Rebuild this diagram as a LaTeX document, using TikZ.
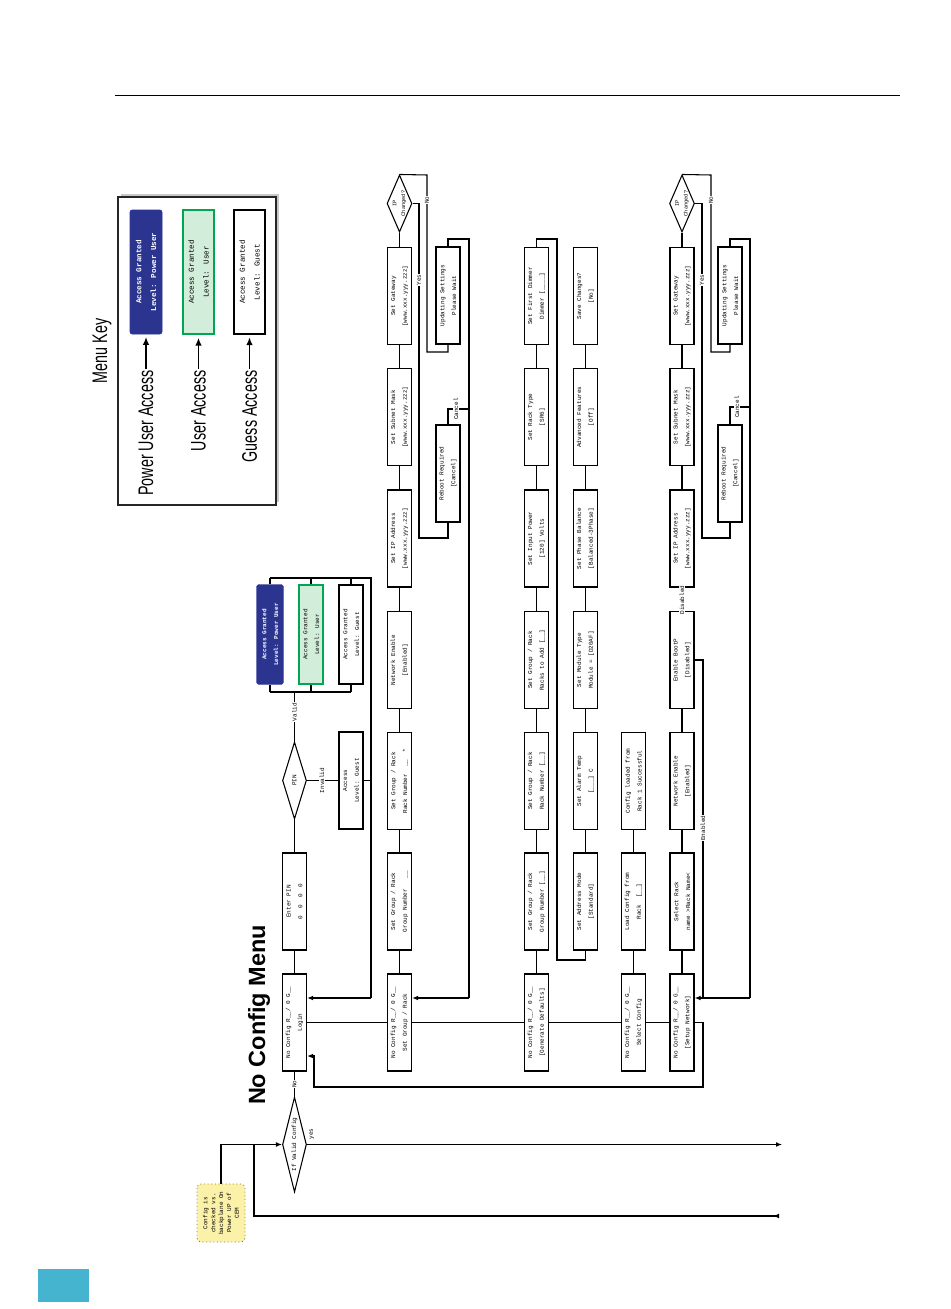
\documentclass[tikz,border=0pt]{standalone}
\usepackage{fontspec}
\setmainfont{Liberation Sans}
\newfontfamily\monof{Liberation Mono}
\newfontfamily\narrowf[FakeStretch=0.68]{Liberation Sans}
\usetikzlibrary{shapes.geometric,arrows.meta,shadows}
\definecolor{pblue}{HTML}{2B3590}
\definecolor{ugreen}{HTML}{00A651}
\definecolor{ugfill}{HTML}{D3EDDB}
\definecolor{notey}{HTML}{FCF1A8}
\definecolor{notebd}{HTML}{8A7F3A}
\definecolor{cyanbox}{HTML}{45B4CF}
\begin{document}
\begin{tikzpicture}[x=0.75pt,y=-0.75pt,
  boxtxt/.style={font=\monof\fontsize{4.5}{8.8}\selectfont},
  boldtxt/.style={font=\monof\bfseries\fontsize{4.5}{8.8}\selectfont},
  smalltxt/.style={font=\monof\fontsize{4}{6.6}\selectfont},
  lgtxt/.style={font=\monof\fontsize{5.7}{11}\selectfont},
  lgbold/.style={font=\monof\bfseries\fontsize{5.7}{11}\selectfont},
  mbox/.style={draw, line width=1pt, rotate=90, minimum width=72.75pt, minimum height=18pt, inner sep=0pt, align=center, boxtxt},
  dia/.style={draw, line width=0.8pt, diamond, rotate=90, inner sep=0pt, align=center, boxtxt},
  conn/.style={line width=0.8pt},
  arr/.style={conn, -{Latex[length=4.5pt,width=3.6pt]}},
  lbl/.style={rotate=90, fill=white, inner sep=0.6pt, boxtxt},
  keytxt/.style={rotate=90, inner sep=1pt, font=\narrowf\fontsize{15.8}{18}\selectfont},
  keyarr/.style={line width=1.2pt, -{Latex[length=6pt,width=5pt]}, shorten >=2pt},
]
\useasboundingbox (0,0) rectangle (950,1309);
\fill[white] (0,0) rectangle (950,1309);

% page furniture
\draw[line width=0.6pt] (115,95) -- (900,95);
\fill[cyanbox] (38,1269) rectangle (89,1302);

% title
\node[rotate=90, font=\bfseries\fontsize{17.6}{20}\selectfont] (title) at (259,1015) {No Config Menu};

% ---------------- legend ----------------
\node[rotate=90, font=\narrowf\fontsize{15.8}{18}\selectfont] (menukey) at (102,351) {Menu Key};
\node[draw=black!85, line width=1.6pt, fill=white, minimum width=118.5pt, minimum height=231pt,
      drop shadow={shadow xshift=2.5pt,shadow yshift=2.5pt,opacity=0.35,fill=black!60}] (legend) at (197,351) {};
\node[rotate=90, fill=pblue, draw=pblue, rounded corners=1.5pt, minimum width=93pt, minimum height=24pt, inner sep=0pt, align=center, text=white, lgbold] (kpu) at (146,272) {Access Granted\\Level: Power User};
\node[rotate=90, fill=ugfill, draw=ugreen, line width=1.6pt, minimum width=93pt, minimum height=23.25pt, inner sep=0pt, align=center, lgtxt] (ku) at (198.5,272) {Access Granted\\Level: User};
\node[rotate=90, draw, line width=0.8pt, minimum width=93pt, minimum height=23.25pt, inner sep=0pt, align=center, lgtxt] (kg) at (249.5,272) {Access Granted\\Level: Guest};
\node[keytxt, anchor=east] (tpu) at (146,369) {Power User Access};
\node[keytxt, anchor=east] (tu) at (198.5,369) {User Access};
\node[keytxt, anchor=east] (tg) at (249.5,369) {Guess Access};
\draw[keyarr] (tpu.east) -- (kpu.west);
\draw[keyarr] (tu.east) -- (ku.west);
\draw[keyarr] (tg.east) -- (kg.west);

% ---------------- coordinates ----------------
\coordinate (busb) at (0,692);
\coordinate (bust) at (0,578);
\coordinate (j1) at (371,998);
\coordinate (j2) at (469,998);
\coordinate (j3) at (750,998);
\coordinate (k1) at (314,1056);

% ---------------- column 1 ----------------
\node[mbox] (login) at (294.5,1022.5) {No Config R\_\_/ 0 G\_\_\\Login};
\node[mbox] (pin0) at (294.5,901.5) {Enter PIN\\0\ \ 0\ \ 0\ \ 0};
\node[dia, shape aspect=3.2, minimum width=57.75pt, minimum height=18pt] (pin) at (294.5,780.5) {PIN};
\node[mbox] (guest) at (351,780.5) {Access\\Level: Guest};
\node[mbox, fill=pblue, draw=pblue, rounded corners=1.2pt, text=white, boldtxt, minimum width=74.25pt, minimum height=19.5pt] (apu) at (270,634.5) {Access Granted\\Level: Power User};
\node[mbox, draw=ugreen, line width=1.5pt, fill=ugfill, minimum width=74.25pt] (au) at (311,634.5) {Access Granted\\Level: User};
\node[mbox, minimum width=74.25pt] (ag) at (351,634.5) {Access Granted\\Level: Guest};
\node[dia, shape aspect=4, minimum width=71.25pt, minimum height=18pt] (ivc) at (294.5,1144.5) {If Valid Config};
\node[rotate=90, draw=notebd, dotted, line width=0.7pt, fill=notey, rounded corners=3pt, minimum width=43.5pt, minimum height=36pt, inner sep=0pt, align=center, font=\monof\fontsize{4.5}{5.9}\selectfont] (note) at (221,1213) {Config is\\checked vs.\\backplane On\\Power UP of\\CEM};

\draw[conn] (login) -- (pin0);
\draw[conn] (pin0) -- (pin);
\draw[conn] (pin) -- (guest);
\draw[conn] (pin.east) -- (pin.east |- busb);
\draw[conn] (apu.west |- busb) -- (ag.west |- busb);
\draw[conn] (apu.west) -- (apu.west |- busb);
\draw[conn] (au.west) -- (au.west |- busb);
\draw[conn] (ag.west) -- (ag.west |- busb);
\draw[conn] (apu.east) -- (apu.east |- bust);
\draw[conn] (au.east) -- (au.east |- bust);
\draw[conn] (ag.east) -- (ag.east |- bust);
\draw[conn] (apu.east |- bust) -- (j1 |- bust) -- (j1);
\draw[arr] (j1) -- (j1 -| login.south);
\draw[conn] (guest.south) -- (guest.south -| j1);
\node[lbl] at (322,780.5) {Invalid};
\node[lbl] at (294.5,712) {Valid};

\draw[conn] (ivc) -- (login);
\node[lbl] at (294.5,1084) {No};
\draw[arr] (ivc.south) -- (782,1144.5);
\node[rotate=90, inner sep=0pt, boxtxt] at (312,1134) {yes};
\draw[arr] (note.east) -- (221,1144.5) -- (ivc.north);
\draw[conn, -{Latex[reversed,length=4.5pt,width=3.6pt]}] (254,1144.5) -- (254,1216) -- (779,1216);

% ---------------- column 2 ----------------
\node[mbox] (sgr) at (399.5,1022.5) {No Config R\_\_/ 0 G\_\_\\Set Group / Rack};
\node[mbox] (gn) at (399.5,901.5) {Set Group / Rack\\Group Number\ \ \ \_\_};
\node[mbox] (rn) at (399.5,781) {Set Group / Rack\\Rack Number\ \ \_\_\ \ *};
\node[mbox] (ne1) at (399.5,660) {Network Enable\\{}[Enabled]};
\node[mbox] (ip1) at (399.5,538.5) {Set IP Address\\{}[www.xxx.yyy.zzz]};
\node[mbox] (sm1) at (399.5,417) {Set Subnet Mask\\{}[www.xxx.yyy.zzz]};
\node[mbox] (gw1) at (399.5,296) {Set Gateway\\{}[www.xxx.yyy.zzz]};
\node[dia, smalltxt, shape aspect=2.3, inner sep=-1.5pt, minimum width=42.75pt, minimum height=18.75pt] (ipc1) at (399.5,203.5) {IP\\Changed?};
\node[mbox] (upd1) at (448,295.5) {Updating Settings\\Please Wait};
\node[mbox] (rbt1) at (448,473.5) {Reboot Required\\{}[Cancel]};

\draw[conn] (sgr) -- (gn);
\draw[conn] (gn) -- (rn);
\draw[conn] (rn) -- (ne1);
\draw[conn] (ne1) -- (ip1);
\draw[conn] (ip1) -- (sm1);
\draw[conn] (sm1) -- (gw1);
\draw[conn] (gw1) -- (ipc1);
\draw[conn] (ipc1.south) -- (419,203.5) -- (419,538) -- (448,538) -- (rbt1.west);
\draw[conn] (ipc1.east) -- (427,175) -- (427,352) -- (448,352) -- (upd1.west);
\draw[conn] (upd1.east) -- (448,239) -- (469,239) -- (j2);
\draw[arr] (j2) -- (j2 -| sgr.south);
\draw[conn] (rbt1.east) -- (448,409) -- (469,409);
\node[lbl] at (419,280) {Yes};
\node[lbl] at (427,200) {No};
\node[lbl] at (456,409) {Cancel};

% ---------------- column 3 / 4 ----------------
\node[mbox] (gd) at (536.5,1022.5) {No Config R\_\_/ 0 G\_\_\\{}[Generate Defaults]};
\node[mbox] (gn2) at (536.5,901.5) {Set Group / Rack\\Group Number [\_\_]};
\node[mbox] (rn2) at (536.5,781) {Set Group / Rack\\Rack Number [\_\_]};
\node[mbox] (ra2) at (536.5,660) {Set Group / Rack\\Racks to Add [\_\_]};
\node[mbox] (inp) at (536.5,538.5) {Set Input Power\\{}[120] Volts};
\node[mbox] (rt) at (536.5,417) {Set Rack Type\\{}[SR6]};
\node[mbox] (fd) at (536.5,296) {Set First Dimmer\\Dimmer [\_\_\_\_]};
\node[mbox] (am) at (585.5,901.5) {Set Address Mode\\{}[Standard]};
\node[mbox] (at) at (585.5,781) {Set Alarm Temp\\{}[\_\_\_] C};
\node[mbox] (mt) at (585.5,660) {Set Module Type\\Module = [D20AF]};
\node[mbox] (pb) at (585.5,538.5) {Set Phase Balance\\{}[Balanced-3Phase]};
\node[mbox] (af) at (585.5,417) {Advanced Features\\{}[Off]};
\node[mbox] (sc) at (585.5,296) {Save Changes?\\{}[No]};

\draw[conn] (gd) -- (gn2);
\draw[conn] (gn2) -- (rn2);
\draw[conn] (rn2) -- (ra2);
\draw[conn] (ra2) -- (inp);
\draw[conn] (inp) -- (rt);
\draw[conn] (rt) -- (fd);
\draw[conn] (fd.east) -- (536.5,239) -- (557,239) -- (557,960) -- (585.5,960) -- (am.west);
\draw[conn] (am) -- (at);
\draw[conn] (at) -- (mt);
\draw[conn] (mt) -- (pb);
\draw[conn] (pb) -- (af);
\draw[conn] (af) -- (sc);

% ---------------- column 5 ----------------
\node[mbox] (scfg) at (633.5,1022.5) {No Config R\_\_/ 0 G\_\_\\Select Config};
\node[mbox] (lc) at (633.5,901.5) {Load Config from\\Rack\ \ [\_\_]};
\node[mbox] (cl) at (633.5,781) {Config loaded from\\Rack 1 Successful};
\draw[conn] (scfg) -- (lc);
\draw[conn] (lc) -- (cl);

% ---------------- column 6 ----------------
\node[mbox] (sn) at (682,1022.5) {No Config R\_\_/ 0 G\_\_\\{}[Setup Network]};
\node[mbox] (sr) at (682,901.5) {Select Rack\\name >Rack Name<};
\node[mbox] (ne2) at (682,781) {Network Enable\\{}[Enabled]};
\node[mbox] (bp) at (682,660) {Enable BootP\\{}[Disabled]};
\node[mbox] (ip2) at (682,538.5) {Set IP Address\\{}[www.xxx.yyy.zzz]};
\node[mbox] (sm2) at (682,417) {Set Subnet Mask\\{}[www.xxx.yyy.zzz]};
\node[mbox] (gw2) at (682,296) {Set Gateway\\{}[www.xxx.yyy.zzz]};
\node[dia, smalltxt, shape aspect=2.3, inner sep=-1.5pt, minimum width=42.75pt, minimum height=18.75pt] (ipc2) at (682,203.5) {IP\\Changed?};
\node[mbox] (upd2) at (730,295.5) {Updating Settings\\Please Wait};
\node[mbox] (rbt2) at (730,473.5) {Reboot Required\\{}[Cancel]};

\draw[conn] (sn) -- (sr);
\draw[conn] (sr) -- (ne2);
\draw[conn] (ne2) -- (bp);
\draw[conn] (bp) -- (ip2);
\draw[conn] (ip2) -- (sm2);
\draw[conn] (sm2) -- (gw2);
\draw[conn] (gw2) -- (ipc2);
\draw[conn] (ipc2.south) -- (702,203.5) -- (702,538) -- (730,538) -- (rbt2.west);
\draw[conn] (ipc2.east) -- (711,175) -- (711,352) -- (730,352) -- (upd2.west);
\draw[conn] (upd2.east) -- (730,239) -- (750,239) -- (j3);
\draw[arr] (j3) -- (j3 -| sn.south);
\draw[conn] (rbt2.east) -- (730,407) -- (750,407);
\draw[conn] (bp.south) -- (703,660) -- (703,998);
\node[lbl] at (702,280) {Yes};
\node[lbl] at (711,200) {No};
\node[lbl] at (737,407) {Cancel};
\node[lbl] at (682,600) {Disabled};
\node[lbl] at (703,828) {Enabled};

% ---------------- main bus and return loop ----------------
\draw[conn] (login) -- (sgr);
\draw[conn] (sgr) -- (gd);
\draw[conn] (gd) -- (scfg);
\draw[conn] (scfg) -- (sn);
\draw[arr] (sn.south) -- (703,1022.5) -- (703,1087) -- (314,1087) -- (k1) -- (k1 -| login.south);
\end{tikzpicture}
\end{document}
